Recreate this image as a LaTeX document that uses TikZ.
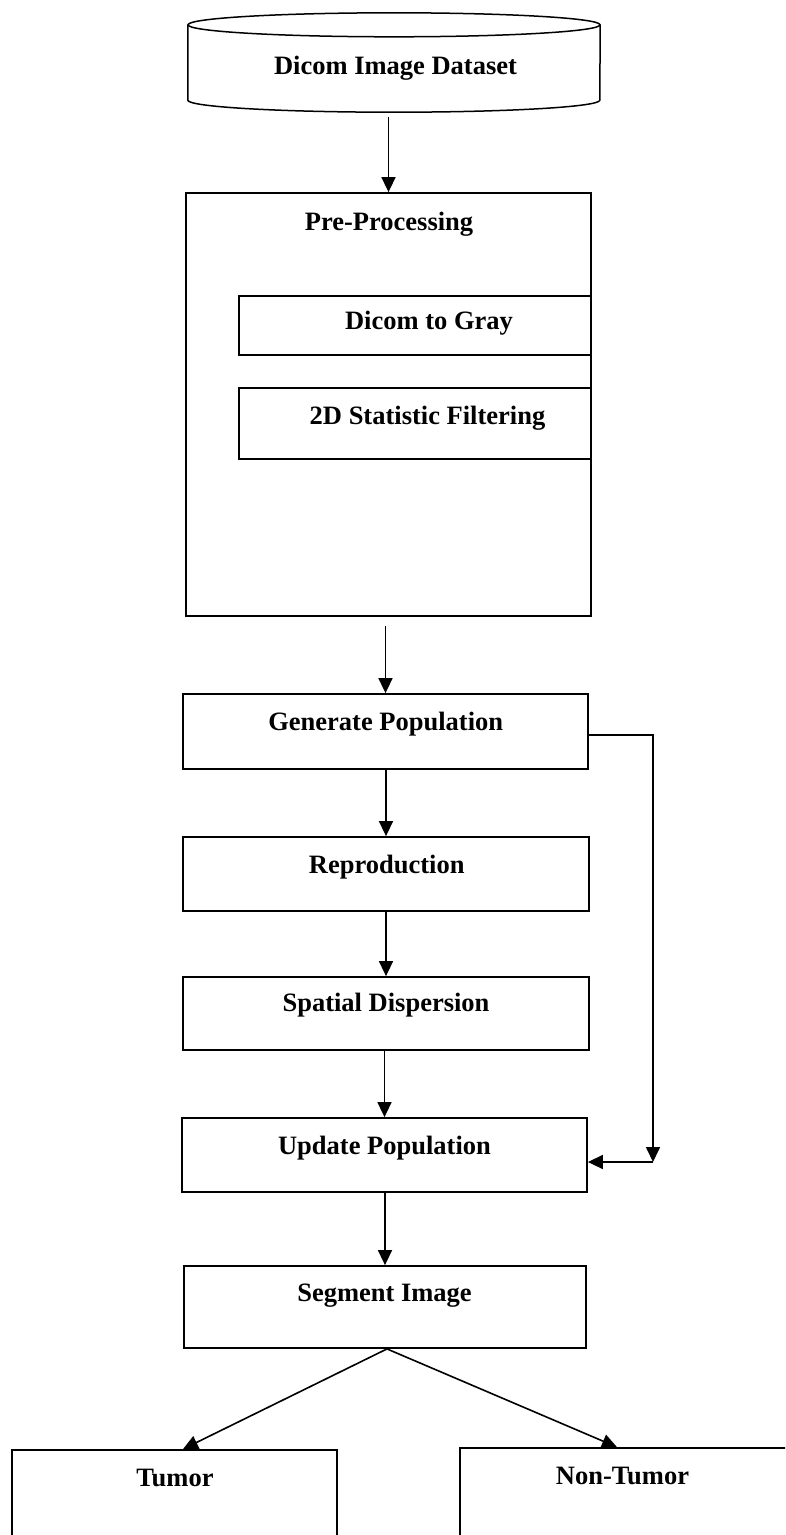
\documentclass[tikz,border=0pt]{standalone}
\usepackage{fontspec}
\setmainfont{Liberation Serif}
\usepackage{tikz}
\usetikzlibrary{positioning,arrows.meta}

\begin{document}
\begin{tikzpicture}[
  x=1pt, y=-1pt,
  font=\fontsize{26.5}{30}\selectfont\bfseries,
  box/.style={draw, line width=1.8pt, inner sep=0pt},
  subbox/.style={draw, line width=1.5pt, inner sep=0pt},
  dbase/.style={inner sep=0pt},
  cylline/.style={line width=1.5pt},
  lbl/.style={anchor=base, inner sep=0pt},
  arr/.style={line width=1.6pt, -{Triangle[length=15pt, width=14pt]}}
]
\useasboundingbox (0,0) rectangle (785,1535);
\clip (0,0) rectangle (785,1535);
% database
\node[dbase, minimum width=412pt, minimum height=99pt] (data) at (394,62.5) {};
\draw[cylline] ([yshift=-12pt]data.north) ellipse [x radius=206, y radius=12];
\draw[cylline] ([yshift=-12pt]data.north west) -- ([yshift=12pt]data.south west)
  arc[start angle=180, end angle=0, x radius=206, y radius=12] -- ([yshift=-12pt]data.north east);
\node[lbl] (dataT) at (395.5,74) {Dicom Image Dataset};
% pre-processing
\node[box, minimum width=405pt, minimum height=423pt] (pre) at (388.5,404.5) {};
\node[lbl] (preT) at (389,230) {Pre-Processing};
\node[subbox, minimum width=352pt, minimum height=59pt] (gray) at (415,325.5) {};
\node[lbl] (grayT) at (429,329) {Dicom to Gray};
\node[subbox, minimum width=352pt, minimum height=71pt] (filt) at (415,423.5) {};
\node[lbl] (filtT) at (427.5,424) {2D Statistic Filtering};
% main chain
\node[box, minimum width=405pt, minimum height=75pt] (gen) at (385.5,731.5) {};
\node[lbl] (genT) at (385.7,730.7) {Generate Population};
\node[box, minimum width=406pt, minimum height=74pt] (rep) at (386,874) {};
\node[lbl] (repT) at (386.7,873) {Reproduction};
\node[box, minimum width=406pt, minimum height=73pt] (spa) at (386,1013.5) {};
\node[lbl] (spaT) at (386,1011.7) {Spatial Dispersion};
\node[box, minimum width=405pt, minimum height=74pt] (upd) at (384.5,1155) {};
\node[lbl] (updT) at (384.5,1154) {Update Population};
\node[box, minimum width=402pt, minimum height=82pt] (seg) at (385,1307) {};
\node[lbl] (segT) at (384.5,1301.7) {Segment Image};
% results
\node[box, minimum width=325pt, minimum height=110pt] (tum) at (174.5,1505) {};
\node[lbl] (tumT) at (175,1486.7) {Tumor};
\node[box, minimum width=350pt, minimum height=112pt] (ntum) at (635,1504) {};
\node[lbl] (ntumT) at (622.5,1484) {Non-Tumor};
\coordinate (fb) at (653,1162);
% arrows
\draw[arr, shorten <=5pt] (pre.north |- data.south) -- (pre.north);
\draw[arr, shorten <=9pt] (gen.north |- pre.south) -- (gen.north);
\draw[arr] (rep.north |- gen.south) -- (rep.north);
\draw[arr] (spa.north |- rep.south) -- (spa.north);
\draw[arr] (upd.north |- spa.south) -- (upd.north);
\draw[arr] (seg.north |- upd.south) -- (seg.north);
\draw[arr] ([xshift=2pt]seg.south) -- ([xshift=8.5pt]tum.north);
\draw[arr] ([xshift=2pt]seg.south) -- ([xshift=-18pt]ntum.north);
\draw[arr] ([yshift=-3.5pt]gen.east) -| (fb);
\draw[arr] (fb) -- (upd.east |- fb);
\end{tikzpicture}
\end{document}
